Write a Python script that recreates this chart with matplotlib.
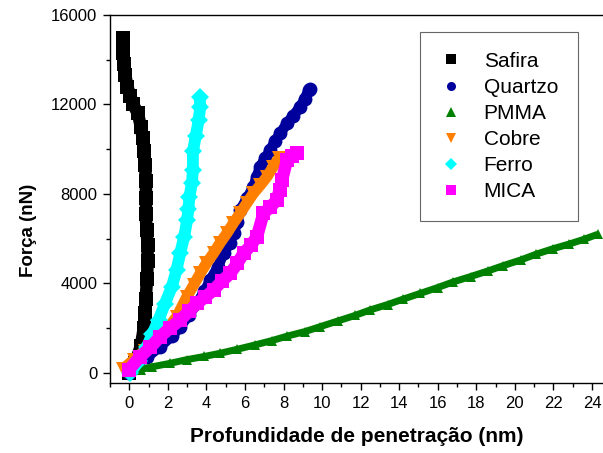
import matplotlib
matplotlib.use("Agg")
import matplotlib.pyplot as plt
from matplotlib.lines import Line2D

plt.rcParams['font.family'] = ['Liberation Sans', 'DejaVu Sans']

# Force-penetration curves (depth in nm, force in nN)
safira_x = [0.0, 0.3, 0.6, 0.75, 0.8, 0.85, 0.92, 0.95, 0.95, 0.9, 0.85, 0.88,
            0.85, 0.83, 0.78, 0.7, 0.6, 0.45, 0.2, 0.05, -0.1, -0.2, -0.25,
            -0.35, -0.35, -0.3]
safira_y = [0, 450, 1200, 2000, 2700, 3300, 4200, 5000, 5700, 6400, 7100, 7800,
            8600, 9300, 9900, 10500, 11000, 11600, 12000, 12400, 12800, 13300,
            13800, 14300, 14700, 14950]

quartzo_x = [0.0, 0.2, 0.9, 1.6, 2.2, 2.64, 3.1, 3.51, 3.9, 4.2, 4.6, 4.89,
             5.2, 5.41, 5.6, 5.75, 6.1, 6.44, 6.6, 6.79, 7.05, 7.31, 7.55,
             7.83, 8.18, 8.5, 8.87, 9.1, 9.3, 9.35]
quartzo_y = [0, 300, 700, 1180, 1650, 2070, 2600, 3110, 3650, 4150, 4750, 5350,
             5800, 6240, 6750, 7280, 7800, 8320, 8750, 9220, 9600, 9960, 10350,
             10710, 11160, 11500, 11900, 12250, 12640, 12700]

pmma_x = [0.0, 0.6, 1.2, 2.1, 3.0, 3.9, 4.7, 5.6, 6.5, 7.4, 8.2, 9.1, 9.9,
          10.8, 11.7, 12.5, 13.4, 14.2, 15.1, 16.0, 16.8, 17.7, 18.6, 19.4,
          20.3, 21.1, 22.0, 22.8, 23.6, 24.3]
pmma_y = [0, 150, 280, 430, 600, 740, 880, 1060, 1250, 1450, 1650, 1850, 2070,
          2320, 2570, 2820, 3060, 3300, 3560, 3820, 4070, 4310, 4560, 4800,
          5050, 5310, 5560, 5760, 5980, 6200]

cobre_x = [-0.3, 0.22, 0.8, 1.44, 2.0, 2.47, 2.99, 3.35, 3.68, 4.0, 4.37,
           4.7, 5.06, 5.4, 5.75, 6.1, 6.44, 6.8, 7.14, 7.45, 7.74]
cobre_y = [200, 580, 1000, 1470, 2000, 2520, 3410, 3950, 4450, 4900, 5350,
           5800, 6240, 6700, 7140, 7600, 8030, 8400, 8770, 9200, 9590]

ferro_x = [0.05, 0.5, 0.92, 1.2, 1.52, 1.85, 2.21, 2.45, 2.64, 2.85, 3.0,
           3.07, 3.12, 3.25, 3.3, 3.3, 3.45, 3.6, 3.68, 3.65]
ferro_y = [0, 550, 1180, 1750, 2370, 3100, 3860, 4600, 5350, 6100, 6840,
           7350, 7880, 8500, 9070, 9900, 10600, 11300, 11900, 12350]

mica_x = [-0.04, 0.57, 1.1, 1.6, 2.1, 2.64, 3.1, 3.51, 3.95, 4.37, 4.8, 5.24,
          5.6, 5.93, 6.3, 6.62, 6.96, 7.3, 7.66, 7.8, 7.92, 8.18, 8.45, 8.69]
mica_y = [130, 730, 1150, 1620, 2000, 2370, 2750, 3110, 3400, 3710, 4100,
          4450, 4900, 5350, 5700, 6090, 7140, 7400, 7730, 8200, 8620, 9520,
          9700, 9820]

# name, x, y, marker, colour, marker size, band width
series = [
    ("Safira", safira_x, safira_y, "s", "#000000", 10.0, 9.0),
    ("Quartzo", quartzo_x, quartzo_y, "o", "#00009C", 10.0, 7.5),
    ("PMMA", pmma_x, pmma_y, "^", "#008000", 7.0, 5.0),
    ("Cobre", cobre_x, cobre_y, "v", "#FF8000", 9.5, 8.0),
    ("Ferro", ferro_x, ferro_y, "D", "#00FFFF", 9.0, 8.5),
    ("MICA", mica_x, mica_y, "s", "#FF00FF", 10.0, 9.0),
]

fig = plt.figure(figsize=(6.03, 4.53), dpi=100)
ax = fig.add_axes([110 / 603, 70 / 453, 493 / 603, 368 / 453])

handles = []
for name, xs, ys, mk, col, ms, lw in series:
    ax.plot(xs, ys, linestyle='-', color=col, linewidth=lw,
            solid_capstyle='butt', solid_joinstyle='round')
    ax.plot(xs, ys, linestyle='none', marker=mk, color=col, markersize=ms,
            markeredgewidth=0)
    handles.append(Line2D([], [], linestyle='none', marker=mk, color=col,
                          markersize=6.5, markeredgewidth=0, label=name))

ax.set_xlim(-0.985, 24.57)
ax.set_ylim(-447, 16000)
ax.spines['right'].set_visible(False)
for s in ('left', 'bottom', 'top'):
    ax.spines[s].set_linewidth(1.0)

ax.set_xticks(range(0, 25, 2))
ax.set_xticks(range(-1, 25, 2), minor=True)
ax.set_yticks([0, 4000, 8000, 12000, 16000])
ax.set_yticks([2000, 6000, 10000, 14000], minor=True)
ax.tick_params(axis='both', which='major', direction='out', length=5,
               width=1.0, labelsize=12, pad=4)
ax.tick_params(axis='both', which='minor', direction='out', length=3,
               width=1.0)
ax.tick_params(top=False, right=False, which='both')

ax.set_xlabel("Profundidade de penetração (nm)", fontsize=15,
              fontweight='bold', labelpad=12)
ax.set_ylabel("Força (nN)", fontsize=13.5, fontweight='bold')
ax.yaxis.set_label_coords(-0.148, 0.415)

leg = ax.legend(handles=handles, loc='upper left',
                bbox_to_anchor=(0.629, 0.954), borderaxespad=0,
                fontsize=15, frameon=True, fancybox=False, edgecolor='#404040',
                borderpad=0.95, handlelength=1.1, handletextpad=1.0,
                labelspacing=0.34)
leg.get_frame().set_linewidth(0.8)

fig.savefig("out.png", dpi=100)
